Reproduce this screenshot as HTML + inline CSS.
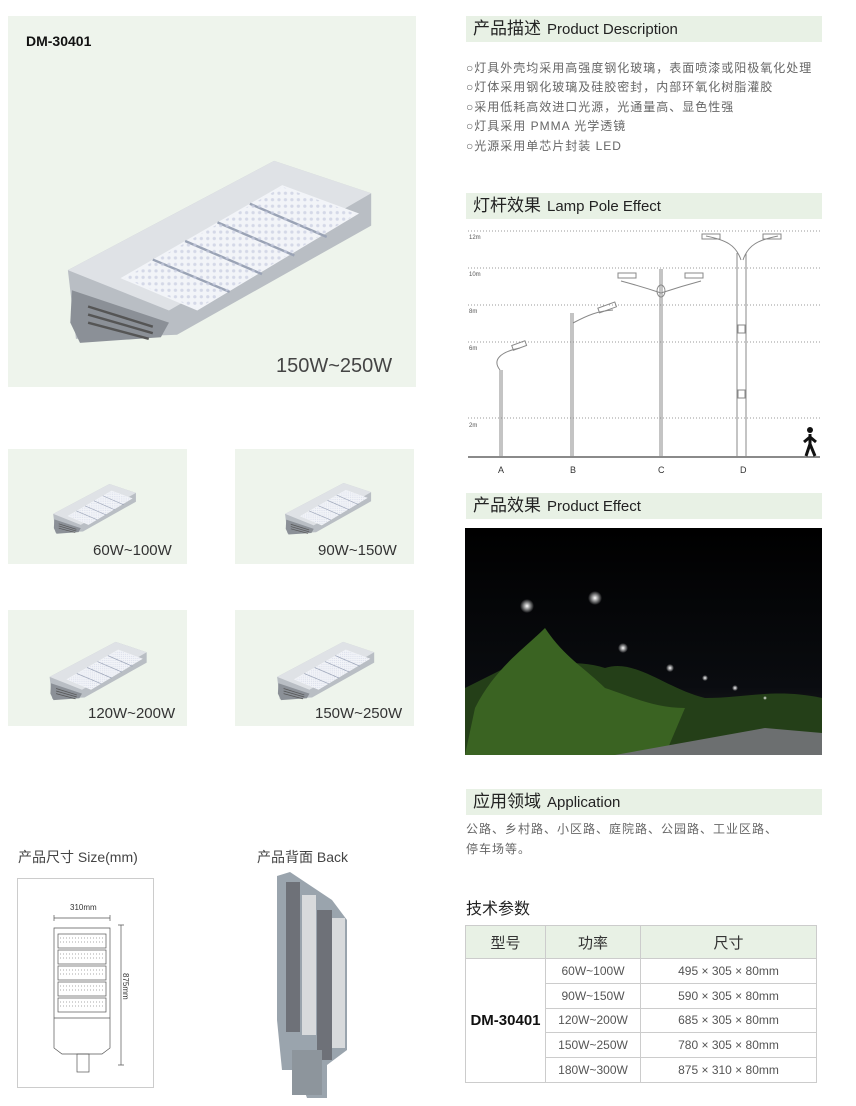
<!DOCTYPE html>
<html><head><meta charset="utf-8"><style>
*{margin:0;padding:0;box-sizing:border-box}
body{width:856px;height:1106px;background:#fff;position:relative;font-family:"Liberation Sans","Noto Sans CJK SC",sans-serif;color:#333;overflow:hidden}
.a{position:absolute}
.panel{position:absolute;background:#eef4ec}
.hb{position:absolute;left:466px;width:356px;height:26px;background:#e8f1e5;font-size:15px;line-height:26px;padding-left:7px;color:#222}
.hb b{font-weight:normal;font-size:17px;margin-right:6px}
.desc{position:absolute;left:466px;font-size:12px;color:#666;line-height:19.4px;letter-spacing:1px}
.lbl{position:absolute;font-size:15px;color:#333}
table{border-collapse:collapse;position:absolute;left:465px;top:925px;width:352px;font-size:12px;color:#555}
td{border:1px solid #ccc;text-align:center;height:24.8px}
tr.h td{background:#e8f1e5;height:33px;font-size:15px;color:#333}
</style></head><body>
<svg width="0" height="0" style="position:absolute"><defs>
<symbol id="lamp" viewBox="0 0 400 340">
<polygon points="15,235 270,100 390,140 390,180 150,315 25,320" fill="#b9bec4"/>
<polygon points="15,235 270,100 390,140 140,285" fill="#dfe2e6"/>
<polygon points="80,245 280,130 375,165 175,285" fill="#f2f4f8"/>
<g stroke="#9aa3b5" stroke-width="3">
<line x1="120" y1="222" x2="215" y2="262"/><line x1="160" y1="199" x2="255" y2="240"/><line x1="200" y1="176" x2="295" y2="217"/><line x1="240" y1="153" x2="335" y2="194"/></g>
<polygon points="85,245 280,132 372,166 175,283" fill="url(#dots)" opacity=".7"/>
<polygon points="20,260 110,290 140,300 130,318 30,325 18,300" fill="#8b9097"/>
<g stroke="#555" stroke-width="3"><line x1="40" y1="280" x2="120" y2="305"/><line x1="40" y1="290" x2="120" y2="313"/><line x1="40" y1="300" x2="115" y2="320"/></g>
</symbol>
<pattern id="dots" width="8" height="8" patternUnits="userSpaceOnUse"><circle cx="4" cy="4" r="2" fill="#c7cce0"/></pattern>
</defs></svg>

<div class="panel" style="left:8px;top:16px;width:408px;height:371px"></div>
<div class="a" style="left:26px;top:33px;font-size:14px;font-weight:bold;color:#111">DM-30401</div>
<svg class="a" style="left:15px;top:80px" width="405" height="275"><use href="#lamp" x="0" y="0" width="405" height="275"/></svg>
<div class="a" style="left:276px;top:355px;font-size:20px;color:#444">150W~250W</div>

<div class="panel" style="left:8px;top:449px;width:179px;height:115px"></div>
<svg class="a" style="left:38px;top:462px" width="112" height="75"><use href="#lamp" width="112" height="75"/></svg>
<div class="lbl" style="left:93px;top:542px">60W~100W</div>
<div class="panel" style="left:235px;top:449px;width:179px;height:115px"></div>
<svg class="a" style="left:265px;top:460px" width="125" height="78"><use href="#lamp" width="125" height="78"/></svg>
<div class="lbl" style="left:318px;top:542px">90W~150W</div>
<div class="panel" style="left:8px;top:610px;width:179px;height:116px"></div>
<svg class="a" style="left:30px;top:616px" width="135" height="88"><use href="#lamp" width="135" height="88"/></svg>
<div class="lbl" style="left:88px;top:705px">120W~200W</div>
<div class="panel" style="left:235px;top:610px;width:179px;height:116px"></div>
<svg class="a" style="left:250px;top:616px" width="150" height="88"><use href="#lamp" width="150" height="88"/></svg>
<div class="lbl" style="left:315px;top:705px">150W~250W</div>

<div class="hb" style="top:16px"><b>产品描述</b>Product Description</div>
<div class="desc" style="top:59px">○灯具外壳均采用高强度钢化玻璃，表面喷漆或阳极氧化处理<br>○灯体采用钢化玻璃及硅胶密封，内部环氧化树脂灌胶<br>○采用低耗高效进口光源，光通量高、显色性强<br>○灯具采用 PMMA 光学透镜<br>○光源采用单芯片封装 LED</div>

<div class="hb" style="top:193px"><b>灯杆效果</b>Lamp Pole Effect</div>
<svg class="a" style="left:460px;top:225px" width="370" height="255">
<g stroke="#999" stroke-dasharray="1,2" stroke-width="1">
<line x1="8" y1="6" x2="360" y2="6"/><line x1="8" y1="43" x2="360" y2="43"/><line x1="8" y1="80" x2="360" y2="80"/><line x1="8" y1="117" x2="360" y2="117"/><line x1="8" y1="193" x2="360" y2="193"/></g>
<g font-size="6" fill="#555"><text x="9" y="14">12m</text><text x="9" y="51">10m</text><text x="9" y="88">8m</text><text x="9" y="125">6m</text><text x="9" y="202">2m</text></g>
<line x1="8" y1="232" x2="360" y2="232" stroke="#444" stroke-width="1.2"/>
<g stroke="#888" fill="none" stroke-width="1">
<path d="M40 232V145M42 232V145"/><path d="M40 145c-8-10 0-18 20-22"/><rect x="52" y="118" width="14" height="5" transform="rotate(-20 59 120)"/>
<path d="M111 232V88M113 232V88"/><path d="M113 98c15-8 25-12 40-13"/><rect x="138" y="80" width="18" height="5" transform="rotate(-20 147 82)"/>
<path d="M200 232V44M202 232V44"/><path d="M201 68c-15-5-25-8-40-12M201 68c15-5 25-8 40-12"/><ellipse cx="201" cy="66" rx="4" ry="6"/><rect x="158" y="48" width="18" height="5"/><rect x="225" y="48" width="18" height="5"/>
<path d="M277 232V28M286 232V28"/><path d="M281 35c-5-15-15-20-35-24M283 35c5-15 15-20 35-24"/><rect x="242" y="9" width="18" height="5"/><rect x="303" y="9" width="18" height="5"/><rect x="278" y="100" width="7" height="8"/><rect x="278" y="165" width="7" height="8"/></g>
<circle cx="350" cy="205" r="3" fill="#111"/><path d="M350 209l0 10M350 212l-6 5M350 212l6 5M350 219l-4 12M350 219l5 12" stroke="#111" stroke-width="3"/>
<g font-size="9" fill="#333"><text x="38" y="248">A</text><text x="110" y="248">B</text><text x="198" y="248">C</text><text x="280" y="248">D</text></g>
</svg>

<div class="hb" style="top:493px"><b>产品效果</b>Product Effect</div>
<svg class="a" style="left:465px;top:528px" width="357" height="227">
<defs><linearGradient id="sky" x1="0" y1="0" x2="0" y2="1"><stop offset="0" stop-color="#000"/><stop offset=".7" stop-color="#0a0c10"/><stop offset="1" stop-color="#2a2a2a"/></linearGradient>
<radialGradient id="gl"><stop offset="0" stop-color="#fff"/><stop offset="1" stop-color="#fff" stop-opacity="0"/></radialGradient></defs>
<rect width="357" height="227" fill="url(#sky)"/>
<path d="M0 227V160c20-10 40-20 60-30 20 10 50 0 80 10 30-10 60 20 100 30 40 0 70-10 117 0V227z" fill="#243f18"/>
<path d="M10 180c20-40 50-60 70-80 20 30 40 40 60 60 30 10 50 20 80 20L200 227H0z" fill="#3a6322"/>
<path d="M150 227L300 200 357 205V227z" fill="#6c6f70"/>
<circle cx="62" cy="78" r="7" fill="url(#gl)"/><circle cx="130" cy="70" r="7" fill="url(#gl)"/><circle cx="158" cy="120" r="5" fill="url(#gl)"/><circle cx="205" cy="140" r="4" fill="url(#gl)"/><circle cx="240" cy="150" r="3" fill="url(#gl)"/><circle cx="270" cy="160" r="3" fill="url(#gl)"/><circle cx="300" cy="170" r="2" fill="url(#gl)"/>
</svg>

<div class="hb" style="top:789px"><b>应用领域</b>Application</div>
<div class="desc" style="top:819px;line-height:20px">公路、乡村路、小区路、庭院路、公园路、工业区路、<br>停车场等。</div>

<div class="lbl" style="left:18px;top:847px;color:#444;font-size:14px">产品尺寸 Size(mm)</div>
<div class="a" style="left:17px;top:878px;width:137px;height:210px;border:1px solid #ccc"></div>
<svg class="a" style="left:17px;top:878px" width="137" height="210">
<g font-size="8" fill="#333"><text x="53" y="32">310mm</text><text x="106" y="95" transform="rotate(90 106 95)">875mm</text></g>
<g stroke="#555" fill="none" stroke-width="0.7">
<path d="M37 40H93M37 37v6M93 37v6M104 47V187M101 47h6M101 187h6"/>
<path d="M37 50h56v120l-8 6H45l-8-6z"/>
<rect x="41" y="56" width="48" height="14"/><rect x="41" y="72" width="48" height="14"/><rect x="41" y="88" width="48" height="14"/><rect x="41" y="104" width="48" height="14"/><rect x="41" y="120" width="48" height="14"/><line x1="37" y1="140" x2="93" y2="140"/><rect x="60" y="176" width="12" height="18"/></g>
<g fill="none" stroke="#aaa" stroke-dasharray="1,2"><path d="M43 60h44M43 64h44M43 76h44M43 80h44M43 92h44M43 96h44M43 108h44M43 112h44M43 124h44M43 128h44"/></g>
</svg>

<div class="lbl" style="left:257px;top:847px;color:#444;font-size:14px">产品背面 Back</div>
<svg class="a" style="left:272px;top:870px" width="90" height="232">
<polygon points="5,6 18,2 60,30 75,50 75,180 55,195 55,228 35,228 25,200 10,200 5,150" fill="#9aa4ad"/>
<rect x="14" y="12" width="14" height="150" fill="#6e7178"/><rect x="45" y="40" width="15" height="150" fill="#6e7178"/>
<rect x="30" y="25" width="14" height="140" fill="#d8dadc"/><rect x="60" y="48" width="13" height="130" fill="#d8dadc"/>
<rect x="20" y="180" width="30" height="45" fill="#8d959c"/>
</svg>

<div class="a" style="left:466px;top:895px;font-size:16px;color:#222">技术参数</div>
<table>
<tr class="h"><td style="width:80px">型号</td><td style="width:95px">功率</td><td>尺寸</td></tr>
<tr><td rowspan="5" style="font-size:15px;font-weight:bold;color:#111">DM-30401</td><td>60W~100W</td><td>495 × 305 × 80mm</td></tr>
<tr><td>90W~150W</td><td>590 × 305 × 80mm</td></tr>
<tr><td>120W~200W</td><td>685 × 305 × 80mm</td></tr>
<tr><td>150W~250W</td><td>780 × 305 × 80mm</td></tr>
<tr><td>180W~300W</td><td>875 × 310 × 80mm</td></tr>
</table>
</body></html>
